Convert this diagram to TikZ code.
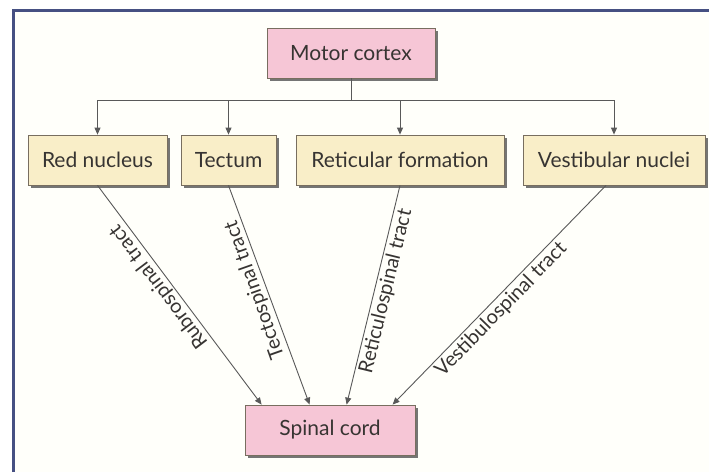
\documentclass[tikz,border=0pt]{standalone}
\usepackage{fontspec}
\setmainfont{Lato}
\usepackage{tikz}
\usetikzlibrary{arrows.meta,shadows}
\definecolor{framecolor}{RGB}{70,80,130}
\definecolor{pinkbox}{RGB}{246,198,214}
\definecolor{creambox}{RGB}{249,238,200}
\definecolor{edgecolor}{RGB}{120,110,95}
\definecolor{inkcolor}{RGB}{55,52,50}

\begin{document}
\begin{tikzpicture}[x=1pt, y=-1pt,
  block/.style={draw=edgecolor, line width=0.8pt, minimum height=50pt, inner sep=2pt,
    font=\fontsize{21}{24}\selectfont, text=inkcolor,
    drop shadow={shadow xshift=3pt, shadow yshift=-3pt, fill=black!60, opacity=0.9}},
  arrow/.style={-{Triangle[length=7pt, width=6pt]}, draw=black!65, line width=0.9pt},
  tract/.style={font=\fontsize{20}{22}\selectfont, text=inkcolor, inner sep=2pt},
]
\useasboundingbox (0,0) rectangle (709,472);
\fill[white] (0,0) rectangle (709,472);
\fill[yellow!2] (13,10) rectangle (709,472);
\draw[framecolor, line width=3pt] (13,472) -- (13,10) -- (709,10);

% Top level
\node[block, fill=pinkbox, minimum width=168pt] (motor) at (351,53) {Motor cortex};

% Brainstem nuclei
\node[block, fill=creambox, minimum width=139pt] (red) at (97.5,160) {Red nucleus};
\node[block, fill=creambox, minimum width=95pt] (tect) at (228.5,160) {Tectum};
\node[block, fill=creambox, minimum width=208pt] (retic) at (400,160) {Reticular formation};
\node[block, fill=creambox, minimum width=182pt] (vest) at (614,160) {Vestibular nuclei};

% Target
\node[block, fill=pinkbox, minimum width=170pt] (cord) at (330,430) {Spinal cord};

% Branching from motor cortex
\coordinate (bar) at (351,100);
\draw[draw=black!65, line width=0.9pt] (motor.south) -- (bar);
\draw[draw=black!65, line width=0.9pt] (red |- bar) -- (vest |- bar);
\draw[arrow] (red |- bar) -- (red.north);
\draw[arrow] (tect |- bar) -- (tect.north);
\draw[arrow] (retic |- bar) -- (retic.north);
\draw[arrow] (vest |- bar) -- (vest.north);

% Descending tracts
\draw[arrow] (red.south) -- ([xshift=17pt]cord.north west)
  node[tract, pos=0.43, rotate=127.1, anchor=south] {Rubrospinal tract};
\draw[arrow] (tect.south) -- ([xshift=65pt]cord.north west)
  node[tract, pos=0.46, rotate=109.5, anchor=south] {Tectospinal tract};
\draw[arrow] (retic.south) -- ([xshift=102pt]cord.north west)
  node[tract, pos=0.47, rotate=76.3, anchor=north] {Reticulospinal tract};
\draw[arrow] ([xshift=-8pt]vest.south) -- ([xshift=148pt]cord.north west)
  node[tract, pos=0.53, rotate=45.7, anchor=north] {Vestibulospinal tract};

\end{tikzpicture}
\end{document}
